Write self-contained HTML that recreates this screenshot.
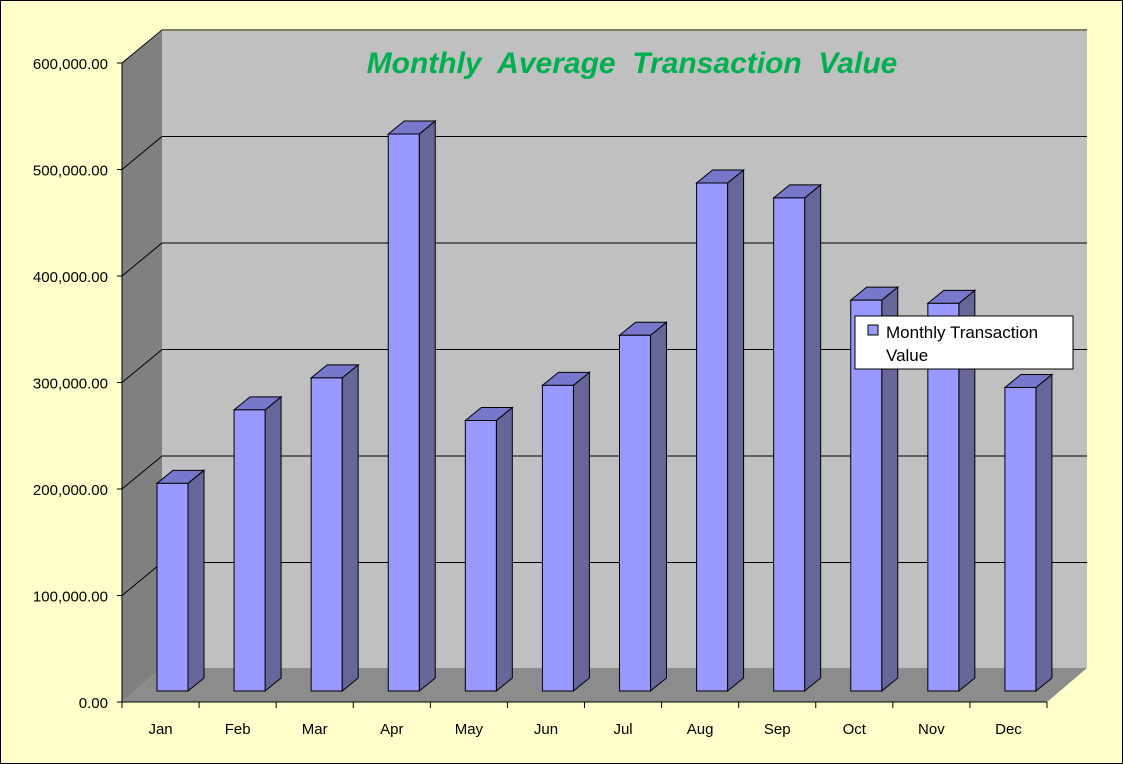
<!DOCTYPE html>
<html><head><meta charset="utf-8"><style>
body{margin:0;background:#FFFFCC;}
svg{display:block;font-family:"Liberation Sans",sans-serif;}
</style></head><body>
<svg id="chart" width="1123" height="764" viewBox="0 0 1123 764">
<rect x="0" y="0" width="1123" height="764" fill="#FFFFCC"/>
<rect x="0.5" y="0.5" width="1122" height="763" fill="none" stroke="#000"/>
<polygon points="122,63 162,31 162,668 122,702" fill="#808080"/>
<rect x="162" y="31" width="925" height="637" fill="#C0C0C0"/>
<polygon points="122,702 162,668 1087,668 1047,702" fill="#8C8C8C"/>
<g id="grid"></g>
<g id="axes"></g>
<g id="bars"></g>
<text x="632" y="73" text-anchor="middle" font-size="30" font-weight="bold" font-style="italic" fill="#00B050">Monthly&#160; Average&#160; Transaction&#160; Value</text>
<g>
<rect x="855" y="316" width="218" height="53" fill="#fff" stroke="#000"/>
<rect x="868" y="325" width="10" height="10" fill="#9999FF" stroke="#000"/>
<text x="886" y="338" font-size="17">Monthly Transaction</text>
<text x="886" y="361" font-size="17">Value</text>
</g>
</svg>
<script>
const categories=["Jan","Feb","Mar","Apr","May","Jun","Jul","Aug","Sep","Oct","Nov","Dec"];
const values=[195000,264000,294000,523000,254000,287000,334000,477000,463000,367000,364000,285000];
const yTicks=[0,100000,200000,300000,400000,500000,600000];
const yTickLabels=["0.00","100,000.00","200,000.00","300,000.00","400,000.00","500,000.00","600,000.00"];
const NS="http://www.w3.org/2000/svg";
const x0=122,x1=1047,dx=40,dy=33,y0=702,pxPer=106.5/100000;
const step=(x1-x0)/categories.length;
function yFront(v){return y0-v*pxPer;}
function yBar(v){return 691-v*pxPer;}
function mk(tag,attrs,parent){const e=document.createElementNS(NS,tag);for(const k in attrs)e.setAttribute(k,attrs[k]);parent.appendChild(e);return e;}
const grid=document.getElementById('grid'),axes=document.getElementById('axes'),bars=document.getElementById('bars');
yTicks.forEach((t,i)=>{
  const y=yFront(t);
  if(t>0){
    const l=mk('polyline',{points:`${x0},${y} ${x0+dx},${y-dy} ${1087},${y-dy}`,fill:'none',stroke:'#000','stroke-width':1},grid);
    
    
  }
  const tk=mk('line',{x1:x0-5,y1:y,x2:x0,y2:y,stroke:'#000'},axes);
  
  
  const tx=mk('text',{x:x0-14,y:y+6,'text-anchor':'end','font-size':15},axes);
  tx.textContent=yTickLabels[i];
  
  
});
mk('line',{x1:x0,y1:yFront(600000),x2:x0,y2:y0,stroke:'#000'},axes);
mk('line',{x1:x0,y1:y0,x2:x1,y2:y0,stroke:'#000'},axes);
categories.forEach((c,i)=>{
  const tk=mk('line',{x1:x0+i*step,y1:y0,x2:x0+i*step,y2:y0+6,stroke:'#000'},axes);
  
  
  const tx=mk('text',{x:x0+(i+0.5)*step,y:y0+32,'text-anchor':'middle','font-size':15},axes);
  tx.textContent=c;
  
  
});
mk('line',{x1:x1,y1:y0,x2:x1,y2:y0+6,stroke:'#000'},axes);
const bw=31,sx=16,sy=13;
values.forEach((v,i)=>{
  const L=x0+i*step+35,R=L+bw,T=yBar(v),B=691;
  const g=mk('g',{},bars);
  
  
  mk('polygon',{points:`${R},${B} ${R+sx},${B-sy} ${R+sx},${T-sy} ${R},${T}`,fill:'#666699',stroke:'#000','stroke-width':1},g);
  mk('polygon',{points:`${L},${T} ${L+sx},${T-sy} ${R+sx},${T-sy} ${R},${T}`,fill:'#7777CC',stroke:'#000','stroke-width':1},g);
  mk('rect',{x:L,y:T,width:bw,height:B-T,fill:'#9999FF',stroke:'#000','stroke-width':1},g);
});
</script>
</body></html>
